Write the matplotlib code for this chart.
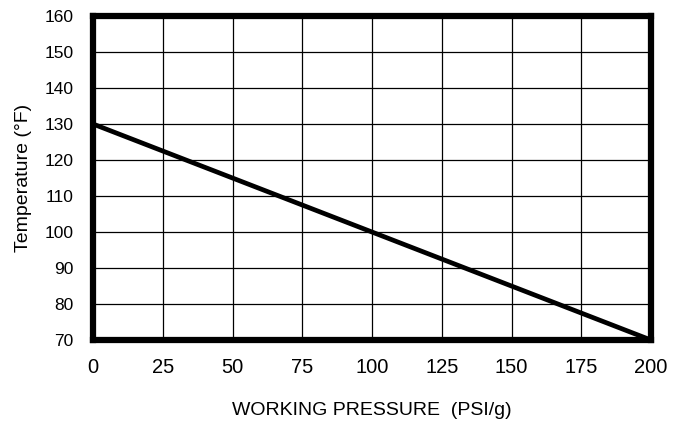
import matplotlib
matplotlib.use('Agg')
import matplotlib.pyplot as plt

plt.rcParams['font.family'] = ['Liberation Sans', 'DejaVu Sans']

# Working pressure vs temperature rating
pressure = [0, 200]
temperature = [130, 70]
x_ticks = [0, 25, 50, 75, 100, 125, 150, 175, 200]
y_ticks = [70, 80, 90, 100, 110, 120, 130, 140, 150, 160]

fig = plt.figure(figsize=(6.87, 4.24), dpi=100)
ax = fig.add_axes([0.1354, 0.198, 0.8122, 0.7643])

ax.plot(pressure, temperature, color='black', linewidth=3.4, solid_capstyle='butt', zorder=3)

ax.set_xlim(0, 200)
ax.set_ylim(70, 160)
ax.set_xticks(x_ticks)
ax.set_yticks(y_ticks)
ax.grid(True, color='black', linewidth=0.9)
ax.tick_params(axis='x', length=0, labelsize=14.5, pad=13)
ax.tick_params(axis='y', length=0, labelsize=12.5, pad=14)

for s in ax.spines.values():
    s.set_linewidth(4.5)
    s.set_zorder(4)

ax.set_xlabel('WORKING PRESSURE  (PSI/g)', fontsize=14, labelpad=18)
ax.set_ylabel('Temperature (°F)', fontsize=14, labelpad=9)

fig.savefig('out.png', dpi=100)
